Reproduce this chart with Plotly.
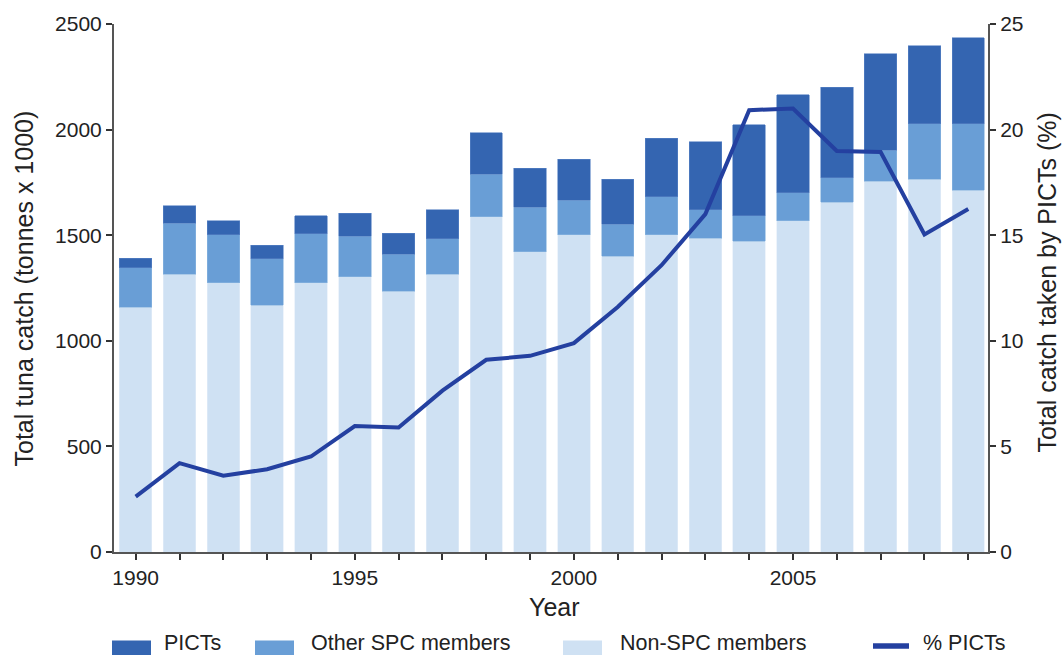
import plotly.graph_objects as go

years = list(range(1990, 2010))
non_spc = [1158, 1315, 1276, 1169, 1276, 1303, 1235, 1315, 1587, 1422,
           1503, 1400, 1503, 1486, 1472, 1568, 1656, 1755, 1765, 1714]
other_spc = [187, 242, 226, 219, 232, 193, 174, 168, 202, 210,
             162, 151, 180, 135, 121, 132, 117, 147, 263, 314]
picts = [47, 83, 66, 64, 85, 109, 101, 138, 196, 184,
         194, 214, 275, 322, 431, 465, 428, 457, 368, 406]
pct_picts = [2.62, 4.21, 3.61, 3.92, 4.52, 5.96, 5.89, 7.64, 9.10, 9.29,
             9.89, 11.6, 13.58, 16.0, 20.92, 21.0, 18.99, 18.94, 15.04, 16.24]
x_tick_labels = {1990: "1990", 1995: "1995", 2000: "2000", 2005: "2005"}
left_ticks = [0, 500, 1000, 1500, 2000, 2500]
right_ticks = [0, 5, 10, 15, 20, 25]

C_PICTS = "#3465b1"
C_OTHER = "#699ed6"
C_NON = "#cfe1f3"
C_LINE = "#2440a0"
FONT = "Liberation Sans, Arial, sans-serif"
TXT = "#222222"

W, H = 1062, 655
ML, MR, MT, MB = 114, 74, 21, 103
PW = W - ML - MR
PH = H - MT - MB


def px(x):
    return (x - ML) / PW


def py(y):
    return (H - MB - y) / PH


fig = go.Figure()
fig.add_trace(go.Bar(x=years, y=non_spc, name="Non-SPC members", width=0.74,
                     marker=dict(color=C_NON, line=dict(width=0.6, color="#e2edf8")),
                     showlegend=False))
fig.add_trace(go.Bar(x=years, y=other_spc, name="Other SPC members", width=0.74,
                     marker=dict(color=C_OTHER, line=dict(width=0.6, color="#8bb5e0")),
                     showlegend=False))
fig.add_trace(go.Bar(x=years, y=picts, name="PICTs", width=0.74,
                     marker=dict(color=C_PICTS, line=dict(width=0.6, color="#5a84c4")),
                     showlegend=False))
fig.add_trace(go.Scatter(x=years, y=pct_picts, name="% PICTs", mode="lines",
                         line=dict(color=C_LINE, width=4), yaxis="y2",
                         showlegend=False))

axis_common = dict(showline=True, linecolor="#555555", linewidth=2,
                   ticks="outside", ticklen=6, tickwidth=1.5, tickcolor="#333333",
                   showgrid=False, zeroline=False,
                   tickfont=dict(family=FONT, size=21, color=TXT))

fig.update_layout(
    width=W, height=H,
    margin=dict(l=ML, r=MR, t=MT, b=MB),
    plot_bgcolor="white", paper_bgcolor="white",
    barmode="stack", bargap=0.26,
    showlegend=False,
    xaxis=dict(range=[1989.505, 2009.45], tickmode="array", tickvals=years,
               ticktext=[x_tick_labels.get(y, "") for y in years], **axis_common),
    yaxis=dict(range=[0, 2500], tickmode="array", tickvals=left_ticks, **axis_common),
    yaxis2=dict(range=[0, 25], tickmode="array", tickvals=right_ticks,
                overlaying="y", side="right", **axis_common),
)

ann_font = dict(family=FONT, size=25, color=TXT)
fig.add_annotation(text="Year", x=px(554), y=py(607), xref="paper", yref="paper",
                   showarrow=False, xanchor="center", yanchor="middle", font=ann_font)
fig.add_annotation(text="Total tuna catch (tonnes x 1000)", x=px(24), y=py(287),
                   xref="paper", yref="paper", showarrow=False, textangle=-90,
                   xanchor="center", yanchor="middle", font=ann_font)
fig.add_annotation(text="Total catch taken by PICTs (%)", x=px(1047), y=py(281),
                   xref="paper", yref="paper", showarrow=False, textangle=-90,
                   xanchor="center", yanchor="middle", font=ann_font)

# manual legend along the bottom edge
legend_items = [
    ("PICTs", C_PICTS, 112, 151, 162, "box"),
    ("Other SPC members", C_OTHER, 255, 294, 309, "box"),
    ("Non-SPC members", C_NON, 563, 602, 618, "box"),
    ("% PICTs", C_LINE, 871, 911, 921, "line"),
]
leg_font = dict(family=FONT, size=21.5, color=TXT)
for label, color, x0, x1, xt, kind in legend_items:
    if kind == "box":
        fig.add_shape(type="rect", xref="paper", yref="paper",
                      x0=px(x0), x1=px(x1), y0=py(665), y1=py(641),
                      fillcolor=color, line=dict(width=0), layer="above")
    else:
        fig.add_shape(type="line", xref="paper", yref="paper",
                      x0=px(x0 + 2), x1=px(x1 - 2), y0=py(646.5), y1=py(646.5),
                      line=dict(color=color, width=5.5), layer="above")
    fig.add_annotation(text=label, x=px(xt), y=py(643.5), xref="paper", yref="paper",
                       showarrow=False, xanchor="left", yanchor="middle", font=leg_font)

fig.write_html(
    "out.html",
    config={"displayModeBar": False},
    post_script="document.body.style.margin='0';document.body.style.padding='0';"
                "document.body.style.overflow='hidden';",
)
